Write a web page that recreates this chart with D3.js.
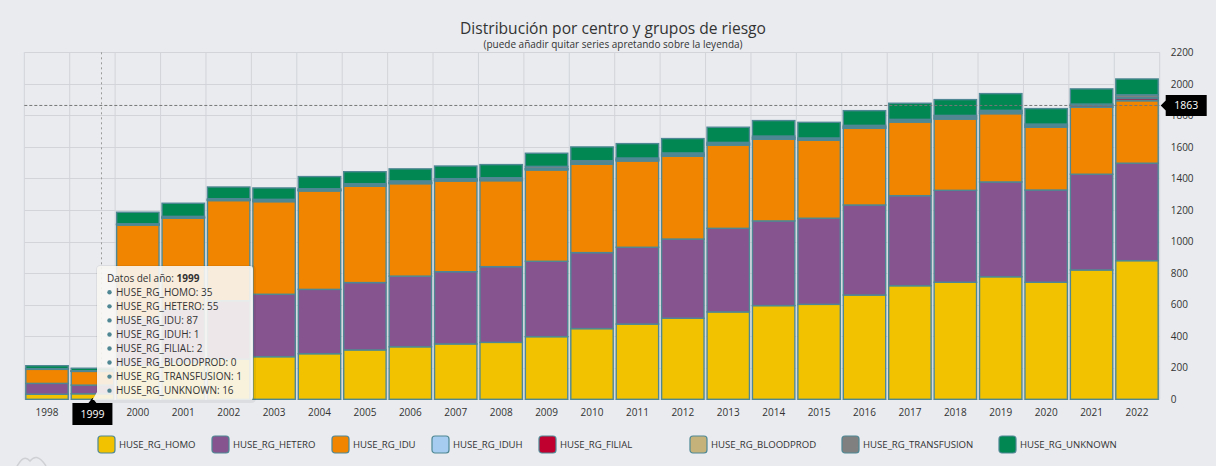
<!DOCTYPE html>
<html>
<head>
<meta charset="utf-8">
<script src="https://cdn.jsdelivr.net/npm/d3@7"></script>
<style>
  body { margin: 0; background: #e9ebef; }
  svg { display: block; font-family: "Open Sans", sans-serif; }
</style>
</head>
<body>
<svg id="chart" width="1216" height="466"></svg>
<script>
// Chart data
const years = ["1998", "1999", "2000", "2001", "2002", "2003", "2004", "2005", "2006", "2007", "2008", "2009",
  "2010", "2011", "2012", "2013", "2014", "2015", "2016", "2017", "2018", "2019", "2020", "2021", "2022"];

const seriesNames = ["HUSE_RG_HOMO", "HUSE_RG_HETERO", "HUSE_RG_IDU", "HUSE_RG_IDUH",
  "HUSE_RG_FILIAL", "HUSE_RG_BLOODPROD", "HUSE_RG_TRANSFUSION", "HUSE_RG_UNKNOWN"];
const seriesColors = ["#f2c200", "#86558f", "#f28500", "#a6cdf0", "#c0002f", "#c5b27a", "#808080", "#008752"];

const homo = [32, 35, 215, 235, 255, 270, 289, 313, 333, 351, 361, 397, 448, 477, 514, 554, 594, 602, 661, 720, 742, 777, 742, 820, 879];
const hetero = [69, 55, 300, 335, 370, 396, 408, 427, 448, 458, 480, 478, 482, 487, 502, 530, 537, 546, 571, 571, 583, 601, 585, 607, 618];
const idu = [89, 87, 590, 578, 635, 587, 624, 611, 586, 575, 545, 579, 560, 547, 525, 527, 518, 494, 486, 467, 452, 433, 398, 425, 396];
const iduh = [1, 1, 2, 2, 2, 3, 3, 3, 3, 3, 3, 3, 3, 3, 3, 2, 2, 2, 2, 2, 2, 2, 2, 2, 3];
const filial = [2, 2, 2, 3, 3, 3, 3, 4, 4, 4, 5, 6, 8, 7, 8, 7, 8, 6, 7, 7, 10, 9, 9, 10, 14];
const bloodprod = [0, 0, 1, 1, 1, 1, 1, 1, 1, 1, 1, 1, 1, 1, 1, 1, 1, 1, 1, 1, 1, 1, 1, 1, 1];
const transfusion = [1, 1, 3, 6, 6, 8, 7, 8, 10, 7, 10, 13, 11, 8, 9, 8, 9, 6, 9, 7, 10, 9, 8, 7, 20];
const unknown = [19, 16, 73, 83, 74, 72, 77, 76, 76, 80, 83, 83, 87, 91, 91, 96, 98, 99, 93, 102, 100, 106, 98, 96, 100];

const yTicks = [0, 200, 400, 600, 800, 1000, 1200, 1400, 1600, 1800, 2000, 2200];

const titleText = "Distribución por centro y grupos de riesgo";
const subtitleText = "(puede añadir quitar series apretando sobre la leyenda)";
const tooltipYear = "1999";
const crosshairValue = 1863;

const seriesValues = [homo, hetero, idu, iduh, filial, bloodprod, transfusion, unknown];

// legend item left edges (layout)
const legendItemX = [98, 212, 332, 432, 539, 690, 842, 999];

// Build rows for d3.stack
const rows = years.map((yr, i) => {
  const row = { year: yr };
  seriesNames.forEach((name, s) => { row[name] = seriesValues[s][i]; });
  return row;
});

const svg = d3.select('#chart');
const plot = { left: 24.3, right: 1159.7, top: 52.3, bottom: 399.3 };
const stroke = '#4f8894';

const x = d3.scaleBand()
  .domain(years)
  .range([plot.left, plot.right])
  .padding(0);

const y = d3.scaleLinear()
  .domain([0, 2200])
  .range([plot.bottom, plot.top]);

// Title
svg.append('text')
  .attr('x', 613).attr('y', 34)
  .attr('text-anchor', 'middle')
  .attr('font-size', 15.6)
  .attr('fill', '#333')
  .text(titleText);

svg.append('text')
  .attr('x', 613).attr('y', 48)
  .attr('text-anchor', 'middle')
  .attr('font-size', 10)
  .attr('fill', '#333')
  .text(subtitleText);

// Grid
const grid = svg.append('g').attr('stroke', '#d2d4d9').attr('stroke-width', 1);
grid.selectAll('.hgrid')
  .data(yTicks)
  .enter().append('line')
  .attr('x1', plot.left).attr('x2', plot.right)
  .attr('y1', d => Math.round(y(d)) + 0.5).attr('y2', d => Math.round(y(d)) + 0.5);

grid.selectAll('.vgrid')
  .data(years.concat(['end']))
  .enter().append('line')
  .attr('x1', d => d === 'end' ? plot.right : x(d))
  .attr('x2', d => d === 'end' ? plot.right : x(d))
  .attr('y1', plot.top).attr('y2', plot.bottom);

// Vertical crosshair (mouse position)
svg.append('line')
  .attr('x1', x(tooltipYear) + x.bandwidth() * 0.7)
  .attr('x2', x(tooltipYear) + x.bandwidth() * 0.7)
  .attr('y1', plot.top).attr('y2', plot.bottom)
  .attr('stroke', '#9a9a9a')
  .attr('stroke-dasharray', '2,3');

// Stacked bars
const stack = d3.stack().keys(seriesNames);
const layers = stack(rows);

svg.selectAll('.layer')
  .data(layers)
  .enter().append('g')
  .attr('class', 'layer')
  .attr('fill', (d, i) => seriesColors[i])
  .selectAll('rect')
  .data(d => d)
  .enter().append('rect')
  .attr('x', d => x(d.data.year) + 1.5)
  .attr('width', x.bandwidth() - 3)
  .attr('y', d => y(d[1]))
  .attr('height', d => y(d[0]) - y(d[1]))
  .attr('stroke', stroke)
  .attr('stroke-width', 1.4);

// Horizontal crosshair
svg.append('line')
  .attr('x1', plot.left).attr('x2', plot.right)
  .attr('y1', y(crosshairValue)).attr('y2', y(crosshairValue))
  .attr('stroke', '#777')
  .attr('stroke-dasharray', '3,2');

// Axes
svg.append('g')
  .attr('transform', `translate(${plot.right},0)`)
  .call(d3.axisRight(y).tickValues(yTicks).tickSize(0).tickPadding(11).tickFormat(d3.format('d')))
  .call(g => g.select('.domain').remove())
  .selectAll('text')
  .attr('font-size', 10)
  .attr('font-family', '"Open Sans", sans-serif')
  .attr('fill', '#333');

svg.append('g')
  .attr('transform', `translate(0,${plot.bottom})`)
  .call(d3.axisBottom(x).tickSize(0).tickPadding(10))
  .call(g => g.select('.domain').remove())
  .selectAll('text')
  .attr('font-size', 10)
  .attr('font-family', '"Open Sans", sans-serif')
  .attr('fill', '#333');

// Crosshair labels
const cx = x(tooltipYear) + x.bandwidth() / 2;
svg.append('path')
  .attr('d', `M${cx - 20},403 L${cx - 4},403 L${cx},398 L${cx + 4},403 L${cx + 20},403 L${cx + 20},425 L${cx - 20},425 Z`)
  .attr('fill', '#000');
svg.append('text')
  .attr('x', cx).attr('y', 418)
  .attr('text-anchor', 'middle')
  .attr('font-size', 10.5).attr('fill', '#fff')
  .text(tooltipYear);

const cy = y(crosshairValue);
svg.append('path')
  .attr('d', `M${plot.right + 1},${cy} L${plot.right + 6},${cy - 5} L${plot.right + 6},${cy - 10.5} L${plot.right + 47},${cy - 10.5} L${plot.right + 47},${cy + 10.5} L${plot.right + 6},${cy + 10.5} L${plot.right + 6},${cy + 5} Z`)
  .attr('fill', '#000');
svg.append('text')
  .attr('x', plot.right + 26.5).attr('y', cy + 4)
  .attr('text-anchor', 'middle')
  .attr('font-size', 10.5).attr('fill', '#fff')
  .text(crosshairValue);

// Tooltip
const ti = years.indexOf(tooltipYear);
const tip = svg.append('g');
const tx0 = 97, ty0 = 266, tw = 156, th = 134;
const tipPath = `M${tx0 + 3},${ty0} L${tx0 + tw - 3},${ty0} Q${tx0 + tw},${ty0} ${tx0 + tw},${ty0 + 3} L${tx0 + tw},${ty0 + th - 3} Q${tx0 + tw},${ty0 + th} ${tx0 + tw - 3},${ty0 + th} L${tx0 + 10},${ty0 + th} L${cx},${ty0 + th} L${tx0},${ty0 + th - 8} L${tx0},${ty0 + 3} Q${tx0},${ty0} ${tx0 + 3},${ty0} Z`;
tip.append('path')
  .attr('d', tipPath)
  .attr('fill', 'none')
  .attr('stroke', 'rgba(0,0,0,0.06)')
  .attr('stroke-width', 4)
  .attr('transform', 'translate(1,1)');
tip.append('path')
  .attr('d', tipPath)
  .attr('fill', 'rgba(248,247,244,0.9)');

const header = tip.append('text')
  .attr('x', 107).attr('y', 281.5)
  .attr('font-size', 10).attr('fill', '#333');
header.append('tspan').text('Datos del año: ');
header.append('tspan').attr('font-weight', 'bold').text(tooltipYear);

seriesNames.forEach((name, s) => {
  const ly = 292.3 + s * 14.05;
  tip.append('circle')
    .attr('cx', 109.5).attr('cy', ly)
    .attr('r', 2.2)
    .attr('fill', stroke);
  tip.append('text')
    .attr('x', 116).attr('y', ly + 3.6)
    .attr('font-size', 10).attr('fill', '#333')
    .text(`${name}: ${seriesValues[s][ti]}`);
});

// Legend
const legend = svg.append('g');
seriesNames.forEach((name, s) => {
  const item = legend.append('g')
    .attr('transform', `translate(${legendItemX[s]},0)`);
  item.append('rect')
    .attr('x', 0).attr('y', 436)
    .attr('width', 17).attr('height', 17)
    .attr('rx', 3)
    .attr('fill', seriesColors[s])
    .attr('stroke', stroke)
    .attr('stroke-width', 1.2);
  item.append('text')
    .attr('x', 21).attr('y', 447.8)
    .attr('font-size', 9.6).attr('fill', '#333')
    .text(name);
});

// Faint logo, bottom left
svg.append('path')
  .attr('d', 'M16,468 C21,459 25,455 30,461 C34,456 39,455 46,466')
  .attr('fill', 'none')
  .attr('stroke', '#cfd0d3')
  .attr('stroke-width', 1.5);
</script>
</body>
</html>
